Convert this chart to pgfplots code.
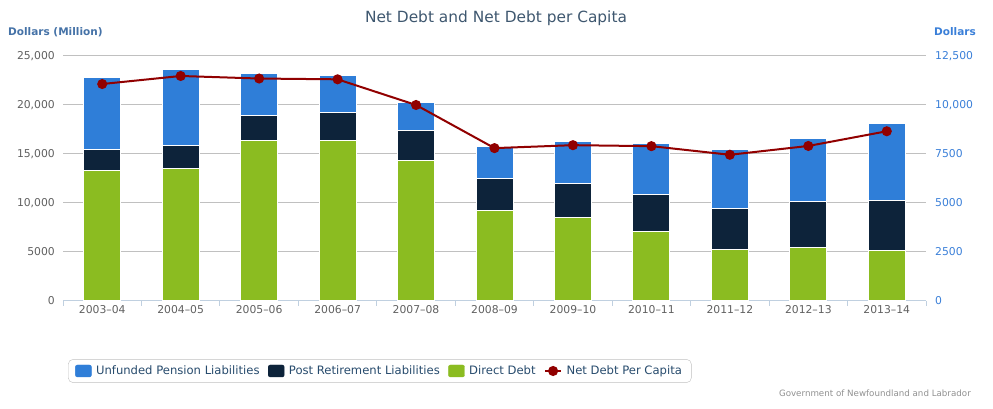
\documentclass[border=0pt]{standalone}
\usepackage{fontspec}
\setmainfont{DejaVu Sans}
\usepackage{pgfplots}
\pgfplotsset{compat=1.18}
\definecolor{pension}{HTML}{2F7ED8}
\definecolor{post}{HTML}{0D233A}
\definecolor{direct}{HTML}{8BBC21}
\definecolor{linecol}{HTML}{910000}
\definecolor{gridcol}{HTML}{C0C0C0}
\definecolor{axisline}{HTML}{C0D0E0}
\definecolor{ticklab}{HTML}{606060}
\definecolor{lefttitle}{HTML}{4572A7}
\definecolor{rightcol}{HTML}{3A7FD8}
\definecolor{legtext}{HTML}{274B6D}
\definecolor{titlecol}{HTML}{3E576F}
\definecolor{creditcol}{HTML}{909090}
\begin{document}
\begin{tikzpicture}
\useasboundingbox (0pt,0pt) rectangle (993pt,409pt);
\begin{axis}[
  at={(63pt,108pt)}, anchor=south west,
  scale only axis, width=863pt, height=245pt,
  xmin=-0.5, xmax=10.5, ymin=0, ymax=25000,
  ybar stacked, bar width=37pt,
  axis x line*=bottom, axis y line*=left,
  x axis line style={-, color=axisline, line width=1pt},
  y axis line style={draw=none},
  xtick={0,...,10},
  xticklabels={2003--04,2004--05,2005--06,2006--07,2007--08,2008--09,2009--10,2010--11,2011--12,2012--13,2013--14},
  minor xtick={-0.5,0.5,...,10.5},
  major tick length=0pt, minor tick length=5pt, tick align=outside,
  minor tick style={color=axisline, line width=1pt},
  ytick={0,5000,10000,15000,20000,25000},
  yticklabels={0,5000,{10,000},{15,000},{20,000},{25,000}},
  ymajorgrids, grid style={color=gridcol, line width=1pt},
  ytick style={draw=none},
  ticklabel style={font=\fontsize{10.8}{12}\selectfont, text=ticklab},
  xticklabel style={inner sep=0pt, yshift=-4pt},
  yticklabel style={inner sep=0pt, xshift=-8pt},
  scaled y ticks=false,
]
\addplot[fill=direct, draw=white, line width=1pt] coordinates {(0,13300) (1,13520) (2,16370) (3,16370) (4,14330) (5,9240) (6,8490) (7,7100) (8,5260) (9,5470) (10,5160)};
\addplot[fill=post, draw=white, line width=1pt] coordinates {(0,2150) (1,2340) (2,2550) (3,2890) (4,3100) (5,3260) (6,3500) (7,3770) (8,4150) (9,4650) (10,5060)};
\addplot[fill=pension, draw=white, line width=1pt] coordinates {(0,7380) (1,7780) (2,4310) (3,3800) (4,2850) (5,3290) (6,4310) (7,5230) (8,6080) (9,6490) (10,7920)};
\end{axis}
\begin{axis}[
  at={(63pt,108pt)}, anchor=south west,
  scale only axis, width=863pt, height=245pt,
  xmin=-0.5, xmax=10.5, ymin=0, ymax=12500,
  axis x line=none, axis y line*=right,
  y axis line style={draw=none},
  xtick=\empty,
  ytick={0,2500,5000,7500,10000,12500},
  yticklabels={0,2500,5000,7500,{10,000},{12,500}},
  ytick style={draw=none},
  yticklabel style={font=\fontsize{10.8}{12}\selectfont, text=rightcol, inner sep=0pt, xshift=9pt},
  scaled y ticks=false,
  legend columns=4,
  legend style={at={(0.0058,-0.2857)}, anchor=west, draw=gridcol, rounded corners=5pt,
    fill=white, inner xsep=7pt, inner ysep=4pt,
    font=\fontsize{11.6}{13}\selectfont, text=legtext,
    nodes={inner sep=2.5pt},
    /tikz/every odd column/.append style={column sep=2pt},
    /tikz/every even column/.append style={column sep=6pt}},
]
\addlegendimage{legend image code/.code={\fill[pension, rounded corners=2pt] (0pt,-6pt) rectangle (16pt,6pt);}}
\addlegendentry{Unfunded Pension Liabilities}
\addlegendimage{legend image code/.code={\fill[post, rounded corners=2pt] (0pt,-6pt) rectangle (16pt,6pt);}}
\addlegendentry{Post Retirement Liabilities}
\addlegendimage{legend image code/.code={\fill[direct, rounded corners=2pt] (0pt,-6pt) rectangle (16pt,6pt);}}
\addlegendentry{Direct Debt}
\addplot[color=linecol, line width=2pt, mark=*, mark size=4pt, mark options={fill=linecol, draw=linecol},
  legend image code/.code={\draw[linecol, line width=2pt] (0pt,0pt) -- (16pt,0pt); \fill[linecol] (8pt,0pt) circle (4pt);}]
  coordinates {(0,11070) (1,11480) (2,11350) (3,11310) (4,10000) (5,7800) (6,7950) (7,7900) (8,7460) (9,7910) (10,8660)};
\addlegendentry{Net Debt Per Capita}
\end{axis}
\node[text=titlecol, font=\fontsize{15.4}{18}\selectfont] at (496pt,391pt) {Net Debt and Net Debt per Capita};
\node[anchor=west, inner sep=0pt, text=lefttitle, font=\bfseries\fontsize{10.5}{12}\selectfont] at (8pt,377pt) {Dollars (Million)};
\node[anchor=west, inner sep=0pt, text=rightcol, font=\bfseries\fontsize{10.5}{12}\selectfont] at (934pt,377pt) {Dollars};
\node[anchor=east, inner sep=0pt, text=creditcol, font=\fontsize{8.7}{10}\selectfont] at (971pt,16pt) {Government of Newfoundland and Labrador};
\end{tikzpicture}
\end{document}
